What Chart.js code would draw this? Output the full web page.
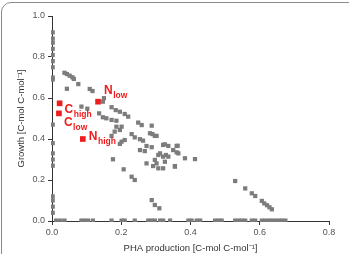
<!DOCTYPE html>
<html>
<head>
<meta charset="utf-8">
<script src="https://cdn.jsdelivr.net/npm/chart.js@4"></script>
<style>
  html, body { margin: 0; padding: 0; background: #fff; overflow: hidden; }
  #wrap { position: relative; width: 349px; height: 254px; }
  #frame { position: absolute; left: 1px; top: 2px; width: 360px; height: 270px;
           border: 1px solid #8a8a8a; border-radius: 10px; pointer-events: none; }
  canvas { position: absolute; left: 0; top: 0; }
</style>
</head>
<body>
<div id="wrap">
  <canvas id="chart" width="349" height="254"></canvas>
  <div id="frame"></div>
</div>
<script>
// gray scatter: PHA production (x) vs growth (y)
const phaX = [0.036, 0.043, 0.051, 0.059, 0.063, 0.076, 0.043, 0.109, 0.117, 0.150, 0.147, 0.085, 0.102, 0.136,
  0.172, 0.184, 0.196, 0.210, 0.220, 0.147, 0.157, 0.172, 0.186, 0.249, 0.259, 0.288, 0.186, 0.201, 0.283, 0.297,
  0.181, 0.196, 0.172, 0.230, 0.239, 0.254, 0.263, 0.210, 0.201, 0.321, 0.336, 0.273, 0.288, 0.360, 0.196, 0.254,
  0.268, 0.350, 0.360, 0.307, 0.321, 0.336, 0.384, 0.413, 0.297, 0.326, 0.273, 0.292, 0.307, 0.355, 0.176, 0.207,
  0.230, 0.239, 0.288, 0.297, 0.310, 0.529, 0.558, 0.577, 0.587, 0.606, 0.613, 0.621, 0.628, 0.635,
  0.365, 0.312, 0.329, 0.326, 0.363, 0.302, 0.290, 0.355, 0.321, 0.302];
const growthY = [0.723, 0.717, 0.709, 0.701, 0.693, 0.668, 0.645, 0.644, 0.634, 0.599, 0.582, 0.558, 0.548, 0.525,
  0.555, 0.541, 0.533, 0.522, 0.509, 0.506, 0.501, 0.493, 0.489, 0.480, 0.468, 0.465, 0.460, 0.460, 0.428, 0.415,
  0.436, 0.444, 0.415, 0.424, 0.408, 0.399, 0.392, 0.395, 0.387, 0.371, 0.366, 0.366, 0.360, 0.366, 0.376, 0.346,
  0.341, 0.346, 0.335, 0.322, 0.314, 0.314, 0.306, 0.302, 0.298, 0.289, 0.281, 0.268, 0.257, 0.265, 0.301, 0.252,
  0.216, 0.200, 0.102, 0.078, 0.062, 0.195, 0.159, 0.135, 0.122, 0.098, 0.086, 0.077, 0.067, 0.057,
  0.330, 0.330, 0.322, 0.374, 0.367, 0.415, 0.424, 0.268, 0.257, 0.281];

// points lying on the axes (no PHA, or no growth)
const zeroPhaGrowth = [0.92, 0.89, 0.87, 0.84, 0.81, 0.78, 0.75, 0.70, 0.69, 0.47, 0.38, 0.33, 0.30, 0.27, 0.12, 0.10, 0.07, 0.04];
const zeroGrowthPha = [0.012, 0.024, 0.036, 0.085, 0.094, 0.104, 0.118, 0.172, 0.201, 0.210, 0.239, 0.278, 0.288,
  0.297, 0.312, 0.321, 0.341, 0.394, 0.403, 0.418, 0.428, 0.471, 0.481, 0.490, 0.529, 0.539, 0.548, 0.558, 0.577,
  0.587, 0.606, 0.616, 0.626, 0.635, 0.645, 0.655, 0.664, 0.674];

// highlighted conditions
const condNames = ['high|C', 'low|C', 'low|N', 'high|N'];
const condX = [0.022, 0.020, 0.133, 0.089];
const condY = [0.574, 0.525, 0.582, 0.400];

const xTicks = [0, 0.2, 0.4, 0.6, 0.8];
const yTicks = [0, 0.2, 0.4, 0.6, 0.8, 1.0];

const gray = '#7c7c7c';
const red = '#ee1c1c';

const grayPts = phaX.map((x, i) => ({ x: x, y: growthY[i] }))
  .concat(zeroPhaGrowth.map(y => ({ x: 0.002, y: y })))
  .concat(zeroGrowthPha.map(x => ({ x: x, y: 0.002 })));
const redPts = condX.map((x, i) => ({ x: x, y: condY[i] }));

// label offsets from the point (px)
const labelOffsets = [[5, 10], [5, 13], [6, -8], [6, 1]];

const labelPlugin = {
  id: 'condLabels',
  afterDatasetsDraw(chart) {
    const ctx = chart.ctx;
    const xs = chart.scales.x, ys = chart.scales.y;
    ctx.save();
    ctx.fillStyle = red;
    ctx.textBaseline = 'alphabetic';
    ctx.textAlign = 'left';
    condNames.forEach((name, i) => {
      const [sub, main] = name.split('|');
      const px = xs.getPixelForValue(condX[i]) + labelOffsets[i][0];
      const py = ys.getPixelForValue(condY[i]) + labelOffsets[i][1];
      ctx.font = 'bold 12px "Liberation Sans", Arial, sans-serif';
      ctx.fillText(main, px, py);
      const w = ctx.measureText(main).width;
      ctx.font = 'bold 8.5px "Liberation Sans", Arial, sans-serif';
      ctx.fillText(sub, px + w + 0.5, py + 4);
    });
    ctx.restore();
  }
};

const axisFont = { family: '"Liberation Sans", Arial, sans-serif', size: 9 };
const titleFont = { family: '"Liberation Sans", Arial, sans-serif', size: 9.5 };

new Chart(document.getElementById('chart'), {
  type: 'scatter',
  data: {
    datasets: [
      { data: grayPts, pointStyle: 'rect', pointRadius: 3, pointHoverRadius: 3,
        backgroundColor: gray, borderColor: gray, borderWidth: 0, clip: 1 },
      { data: redPts, pointStyle: 'rect', pointRadius: 4, pointHoverRadius: 4,
        backgroundColor: red, borderColor: red, borderWidth: 0 }
    ]
  },
  options: {
    responsive: false,
    animation: false,
    events: [],
    layout: { padding: { left: 16, right: 20, top: 16, bottom: 0 } },
    plugins: { legend: { display: false }, tooltip: { enabled: false } },
    scales: {
      x: {
        type: 'linear', min: 0, max: 0.8,
        afterBuildTicks: s => { s.ticks = xTicks.map(v => ({ value: v })); },
        afterFit: s => { s.height = 33; },
        ticks: { callback: v => v.toFixed(1), color: '#555', font: axisFont, padding: 2, maxRotation: 0 },
        grid: { drawOnChartArea: false, drawTicks: true, tickLength: 4, color: '#333' },
        border: { display: true, color: '#333', width: 1 },
        title: { display: true, text: 'PHA production [C-mol C-mol\u207B\u00B9]', color: '#333', font: titleFont, padding: { top: 9, bottom: 0 } }
      },
      y: {
        type: 'linear', min: 0, max: 1,
        afterBuildTicks: s => { s.ticks = yTicks.map(v => ({ value: v })); },
        afterFit: s => { s.width = 36; },
        ticks: { callback: v => v.toFixed(1), color: '#555', font: axisFont, padding: 3 },
        grid: { drawOnChartArea: false, drawTicks: true, tickLength: 4, color: '#333' },
        border: { display: true, color: '#333', width: 1 },
        title: { display: true, text: 'Growth [C-mol C-mol\u207B\u00B9]', color: '#333', font: titleFont, padding: { top: 0, bottom: 6 } }
      }
    }
  },
  plugins: [labelPlugin]
});
</script>
</body>
</html>
